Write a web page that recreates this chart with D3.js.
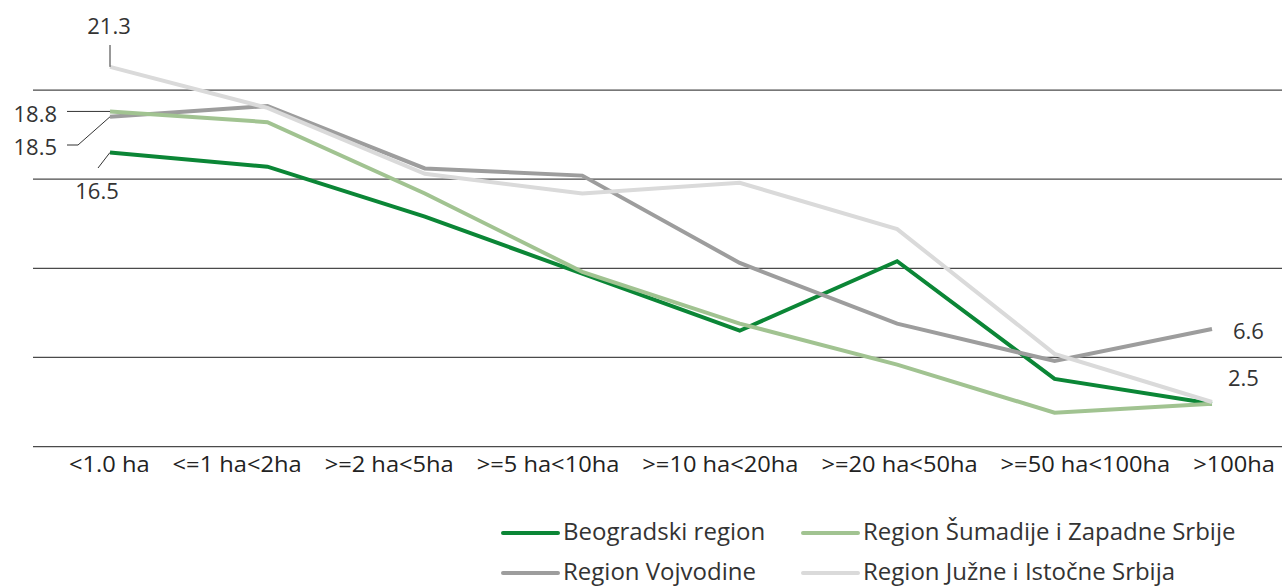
<!DOCTYPE html>
<html>
<head>
<meta charset="utf-8">
<script src="https://cdn.jsdelivr.net/npm/d3@7"></script>
<style>
  body { margin: 0; background: #fff; }
  svg { display: block; }
  .lbl { font-family: "Open Sans", sans-serif; fill: #333; }
  .tick { font-family: "Open Sans", sans-serif; fill: #222; }
</style>
</head>
<body>
<svg id="chart" width="1282" height="587"></svg>
<script>
const categories = ["<1.0 ha", "<=1 ha<2ha", ">=2 ha<5ha", ">=5 ha<10ha", ">=10 ha<20ha", ">=20 ha<50ha", ">=50 ha<100ha", ">100ha"];

const beograd = [16.5, 15.7, 12.9, 9.7, 6.5, 10.4, 3.8, 2.4];
const sumadija = [18.8, 18.2, 14.2, 9.8, 6.9, 4.6, 1.9, 2.4];
const vojvodina = [18.5, 19.1, 15.6, 15.2, 10.3, 6.9, 4.8, 6.6];
const juzne = [21.3, 19.0, 15.3, 14.2, 14.8, 12.2, 5.2, 2.5];

const seriesNames = ["Beogradski region", "Region Šumadije i Zapadne Srbije", "Region Vojvodine", "Region Južne i Istočne Srbija"];
const seriesColors = ["#0b8636", "#a1c391", "#9d9d9d", "#dadada"];
const gridValues = [0, 5, 10, 15, 20];

const svg = d3.select("#chart");
const left = 33, right = 1282;

const x = d3.scalePoint().domain(categories).range([110, 1212]);
const y = d3.scaleLinear().domain([0, 25]).range([446.6, 0.9]);

// gridlines
svg.append("g")
  .selectAll("line")
  .data(gridValues)
  .join("line")
  .attr("x1", left)
  .attr("x2", right)
  .attr("y1", (d) => y(d))
  .attr("y2", (d) => y(d))
  .attr("stroke", "#4a4a4a")
  .attr("stroke-width", 1.3);

// category labels: flowed left to right with a fixed gap, squeezed to fit the row
const tickG = svg.append("g");
const gap = 23, rowStart = 69, rowEnd = 1275;
const ticks = categories.map((c) =>
  tickG.append("text")
    .attr("class", "tick")
    .attr("y", 472)
    .attr("font-size", 21)
    .text(c)
);
const widths = ticks.map((t) => t.node().getComputedTextLength());
const squeeze = (rowEnd - rowStart - gap * (categories.length - 1)) / d3.sum(widths);
let cursor = rowStart;
ticks.forEach((t, i) => {
  const w = widths[i] * squeeze;
  t.attr("x", cursor)
    .attr("textLength", w)
    .attr("lengthAdjust", "spacingAndGlyphs");
  cursor += w + gap;
});

// lines (light grey on top)
const allSeries = [beograd, sumadija, vojvodina, juzne];
const line = d3.line()
  .x((d, i) => x(categories[i]))
  .y((d) => y(d));

[0, 2, 1, 3].forEach((k) => {
  svg.append("path")
    .datum(allSeries[k])
    .attr("fill", "none")
    .attr("stroke", seriesColors[k])
    .attr("stroke-width", 4)
    .attr("stroke-linejoin", "miter")
    .attr("d", line);
});

// value labels and leader lines
const x0 = x(categories[0]);
const xl = x(categories[categories.length - 1]);
const leaders = svg.append("g").attr("stroke", "#333").attr("stroke-width", 1).attr("fill", "none");
leaders.append("path").attr("d", `M${x0},${y(juzne[0])} V45`);
leaders.append("path").attr("d", `M${x0},${y(sumadija[0])} H67`);
leaders.append("path").attr("d", `M${x0},${y(vojvodina[0])} L78,145 H67`);
leaders.append("path").attr("d", `M${x0},${y(beograd[0])} L98,168`);

const labels = [
  { v: juzne[0], x: 109, y: 34, anchor: "middle" },
  { v: sumadija[0], x: 57, y: 121.5, anchor: "end" },
  { v: vojvodina[0], x: 57, y: 155, anchor: "end" },
  { v: beograd[0], x: 97, y: 199, anchor: "middle" },
  { v: vojvodina[7], x: xl + 21, y: 339, anchor: "start" },
  { v: juzne[7], x: xl + 16, y: 385.5, anchor: "start" },
];
svg.append("g")
  .selectAll("text")
  .data(labels)
  .join("text")
  .attr("class", "lbl")
  .attr("font-size", 22)
  .attr("x", (d) => d.x)
  .attr("y", (d) => d.y)
  .attr("text-anchor", (d) => d.anchor)
  .text((d) => d3.format(".1f")(d.v));

// legend
const legendPos = [[503, 540], [803, 540], [503, 580], [803, 580]];
const legend = svg.append("g")
  .selectAll("g")
  .data(seriesNames)
  .join("g")
  .attr("transform", (d, i) => `translate(${legendPos[i][0]},${legendPos[i][1]})`);
legend.append("line")
  .attr("x1", 0).attr("x2", 55)
  .attr("y1", -7).attr("y2", -7)
  .attr("stroke", (d, i) => seriesColors[i])
  .attr("stroke-width", 4)
  .attr("stroke-linecap", "round");
legend.append("text")
  .attr("class", "lbl")
  .attr("font-size", 24)
  .attr("x", 60)
  .text((d) => d);
</script>
</body>
</html>
